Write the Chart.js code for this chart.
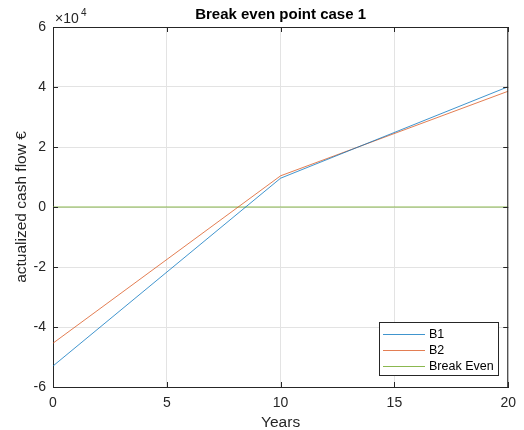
<!DOCTYPE html>
<html>
<head>
<meta charset="utf-8">
<script src="https://cdn.jsdelivr.net/npm/chart.js@4"></script>
<style>
  html,body{margin:0;padding:0;background:#fff;}
  #wrap{width:524px;height:430px;}
</style>
</head>
<body>
<div id="wrap"><canvas id="chart" width="524" height="430"></canvas></div>
<script>
const years = [0, 10, 20];
const b1 = [-53000, 9600, 40100];
const b2 = [-45400, 10400, 38600];
const breakEven = [0, 0, 0];
const xTicks = [0, 5, 10, 15, 20];
const yTicks = [-60000, -40000, -20000, 0, 20000, 40000, 60000];

const FONT = '"Liberation Sans", Arial, Helvetica, sans-serif';
const AX = '#262626';

const toXY = arr => years.map((x, i) => ({x, y: arr[i]}));

// MATLAB-ish frame: box, inward ticks, title, axis labels, exponent, legend
const matlabFrame = {
  id: 'matlabFrame',
  afterDraw(chart){
    const {ctx, chartArea: a, scales:{x, y}} = chart;
    ctx.save();
    ctx.strokeStyle = AX; ctx.lineWidth = 1;
    ctx.beginPath();
    ctx.moveTo(a.left, a.top + .5); ctx.lineTo(a.right, a.top + .5);
    ctx.moveTo(a.right - .5, a.top); ctx.lineTo(a.right - .5, a.bottom);
    for (const v of xTicks){
      const px = Math.round(x.getPixelForValue(v)) + .5;
      ctx.moveTo(px, a.bottom); ctx.lineTo(px, a.bottom - 5);
      ctx.moveTo(px, a.top); ctx.lineTo(px, a.top + 5);
    }
    for (const v of yTicks){
      const py = Math.round(y.getPixelForValue(v)) + .5;
      ctx.moveTo(a.left, py); ctx.lineTo(a.left + 5, py);
      ctx.moveTo(a.right, py); ctx.lineTo(a.right - 5, py);
    }
    ctx.stroke();

    ctx.fillStyle = '#000';
    ctx.textAlign = 'center'; ctx.textBaseline = 'middle';
    ctx.font = 'bold 15px ' + FONT;
    ctx.fillText('Break even point case 1', (a.left + a.right) / 2, 15);

    ctx.fillStyle = AX;
    ctx.font = '15.5px ' + FONT;
    ctx.fillText('Years', (a.left + a.right) / 2, 423);
    ctx.save();
    ctx.translate(22, (a.top + a.bottom) / 2);
    ctx.rotate(-Math.PI / 2);
    ctx.fillText('actualized cash flow €', 0, 0);
    ctx.restore();

    ctx.textAlign = 'left'; ctx.textBaseline = 'alphabetic';
    ctx.font = '14px ' + FONT;
    ctx.fillText('×10', a.left + 2, 23);
    ctx.font = '10px ' + FONT;
    ctx.fillText('4', a.left + 28, 16);

    // legend
    const lx = 379.5, ly = 322.5, lw = 119, lh = 53;
    ctx.fillStyle = '#fff';
    ctx.fillRect(lx, ly, lw, lh);
    ctx.strokeStyle = AX; ctx.lineWidth = 1;
    ctx.strokeRect(lx, ly, lw, lh);
    ctx.font = '12.5px ' + FONT; ctx.textBaseline = 'middle';
    chart.data.datasets.forEach((ds, i) => {
      const ry = 334.5 + i * 16;
      ctx.strokeStyle = ds.borderColor;
      ctx.beginPath(); ctx.moveTo(383, ry); ctx.lineTo(425, ry); ctx.stroke();
      ctx.fillStyle = '#000';
      ctx.fillText(ds.label, 429, ry);
    });
    ctx.restore();
  }
};

new Chart(document.getElementById('chart'), {
  type: 'line',
  data: {
    datasets: [
      {label: 'B1', data: toXY(b1), borderColor: 'rgba(0,114,189,0.75)', borderWidth: 1},
      {label: 'B2', data: toXY(b2), borderColor: 'rgba(217,83,25,0.75)', borderWidth: 1},
      {label: 'Break Even', data: toXY(breakEven), borderColor: 'rgba(119,172,48,0.85)', borderWidth: 1}
    ]
  },
  options: {
    responsive: false,
    animation: false,
    layout: {padding: {top: 27, right: 14, left: 0, bottom: 0}},
    elements: {point: {radius: 0}, line: {tension: 0}},
    plugins: {legend: {display: false}, title: {display: false}, tooltip: {enabled: false}},
    scales: {
      x: {
        type: 'linear', min: 0, max: 20,
        afterBuildTicks: s => { s.ticks = xTicks.map(v => ({value: v})); },
        afterFit: s => { s.height = 43; },
        grid: {color: '#e3e3e3', drawTicks: false},
        border: {color: AX},
        ticks: {padding: 8, color: AX, font: {family: FONT, size: 14}}
      },
      y: {
        type: 'linear', min: -60000, max: 60000,
        afterBuildTicks: s => { s.ticks = yTicks.map(v => ({value: v})); },
        afterFit: s => { s.width = 53; },
        grid: {color: '#e3e3e3', drawTicks: false},
        border: {color: AX},
        ticks: {padding: 7, color: AX, font: {family: FONT, size: 14}, callback: v => v / 10000}
      }
    }
  },
  plugins: [matlabFrame]
});
</script>
</body>
</html>
